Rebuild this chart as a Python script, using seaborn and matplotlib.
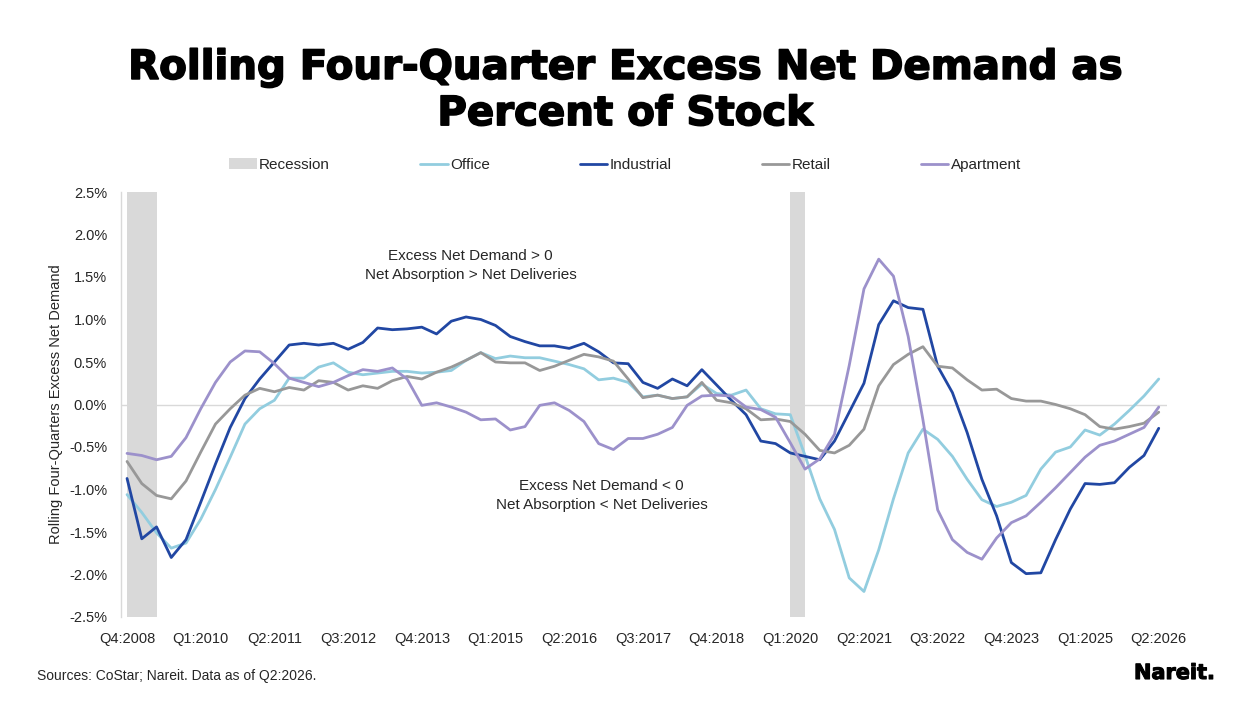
import numpy as np
import pandas as pd
import matplotlib
matplotlib.use("Agg")
import matplotlib.pyplot as plt
import matplotlib.patheffects as pe
import seaborn as sns
from matplotlib.lines import Line2D
from matplotlib.patches import Patch

# ---------------- data ----------------
quarter_labels = ["Q4:2008", "Q1:2010", "Q2:2011", "Q3:2012", "Q4:2013", "Q1:2015",
                  "Q2:2016", "Q3:2017", "Q4:2018", "Q1:2020", "Q2:2021", "Q3:2022",
                  "Q4:2023", "Q1:2025", "Q2:2026"]

office = [-1.06, -1.27, -1.51, -1.69, -1.63, -1.35, -1.00, -0.62, -0.23, -0.05,
          0.05, 0.31, 0.31, 0.44, 0.49, 0.38, 0.35, 0.37, 0.39, 0.39,
          0.37, 0.38, 0.40, 0.52, 0.61, 0.54, 0.57, 0.55, 0.55, 0.51,
          0.47, 0.42, 0.29, 0.31, 0.26, 0.09, 0.11, 0.07, 0.09, 0.24,
          0.13, 0.11, 0.17, -0.05, -0.11, -0.12, -0.60, -1.11, -1.47, -2.04,
          -2.20, -1.71, -1.11, -0.57, -0.29, -0.41, -0.61, -0.88, -1.12, -1.20,
          -1.15, -1.07, -0.76, -0.56, -0.50, -0.30, -0.36, -0.23, -0.07, 0.10,
          0.30]

industrial = [-0.87, -1.58, -1.44, -1.80, -1.59, -1.15, -0.70, -0.27, 0.07, 0.30,
              0.50, 0.70, 0.72, 0.70, 0.72, 0.65, 0.73, 0.90, 0.88, 0.89,
              0.91, 0.83, 0.98, 1.03, 1.00, 0.93, 0.80, 0.74, 0.69, 0.69,
              0.66, 0.72, 0.62, 0.49, 0.48, 0.26, 0.19, 0.30, 0.22, 0.41,
              0.23, 0.05, -0.12, -0.43, -0.46, -0.57, -0.61, -0.65, -0.43, -0.09,
              0.25, 0.94, 1.22, 1.14, 1.12, 0.45, 0.14, -0.33, -0.88, -1.31,
              -1.86, -1.99, -1.98, -1.59, -1.23, -0.93, -0.94, -0.92, -0.74, -0.60,
              -0.28]

retail = [-0.67, -0.93, -1.07, -1.11, -0.90, -0.56, -0.23, -0.05, 0.11, 0.19,
          0.15, 0.20, 0.17, 0.28, 0.26, 0.17, 0.22, 0.19, 0.28, 0.33,
          0.30, 0.38, 0.44, 0.52, 0.61, 0.50, 0.49, 0.49, 0.40, 0.45,
          0.52, 0.59, 0.56, 0.51, 0.30, 0.08, 0.11, 0.07, 0.09, 0.26,
          0.05, 0.02, -0.05, -0.18, -0.17, -0.20, -0.35, -0.54, -0.57, -0.48,
          -0.29, 0.22, 0.47, 0.59, 0.68, 0.45, 0.43, 0.29, 0.17, 0.18,
          0.07, 0.04, 0.04, 0.00, -0.05, -0.12, -0.26, -0.29, -0.26, -0.22,
          -0.09]

apartment = [-0.575, -0.60, -0.65, -0.61, -0.39, -0.05, 0.26, 0.50, 0.63, 0.62,
             0.48, 0.31, 0.26, 0.21, 0.26, 0.34, 0.41, 0.39, 0.43, 0.30,
             -0.01, 0.02, -0.03, -0.09, -0.18, -0.17, -0.30, -0.26, -0.01, 0.02,
             -0.07, -0.20, -0.46, -0.53, -0.40, -0.40, -0.35, -0.27, -0.01, 0.10,
             0.11, 0.10, -0.03, -0.06, -0.15, -0.45, -0.76, -0.64, -0.35, 0.46,
             1.36, 1.71, 1.51, 0.80, -0.18, -1.24, -1.59, -1.74, -1.82, -1.57,
             -1.39, -1.31, -1.15, -0.98, -0.80, -0.62, -0.48, -0.43, -0.35, -0.27,
             -0.03]

# recession periods (quarter index, start / end)
recession_start = [0, 45]
recession_end = [2, 46]

series_names = ["Office", "Industrial", "Retail", "Apartment"]
colors = {"Office": "#92CDDF", "Industrial": "#2147A3",
          "Retail": "#989898", "Apartment": "#9C91CB"}
rec_color = "#D9D9D9"

n = len(office)
idx = np.arange(n)
df = pd.DataFrame({
    "idx": np.tile(idx, 4),
    "value": np.concatenate([office, industrial, retail, apartment]),
    "Sector": np.repeat(series_names, n),
})

# ---------------- figure ----------------
sns.set_theme(style="white")
plt.rcParams["font.family"] = ["Liberation Sans", "DejaVu Sans"]

fig = plt.figure(figsize=(12.5, 7.03), dpi=100)
ax = fig.add_axes([121 / 1250, 1 - 617 / 703, (1167 - 121) / 1250, (617 - 192) / 703])

for s, e in zip(recession_start, recession_end):
    ax.axvspan(s, e, color=rec_color, lw=0, zorder=0)

ax.axhline(0, color="#D9D9D9", lw=1, zorder=1)

sns.lineplot(data=df, x="idx", y="value", hue="Sector", palette=colors,
             hue_order=series_names, ax=ax, legend=False, linewidth=2.0, zorder=3)

ax.set_xlim(-0.41, 70.56)
ax.set_ylim(-2.5, 2.5)
yt = np.arange(-2.5, 2.51, 0.5)
ax.set_yticks(yt)
ax.set_yticklabels([f"{v:.1f}%" for v in yt], fontsize=10.5, color="#262626")
ax.set_xticks(np.arange(0, n, 5))
ax.set_xticklabels(quarter_labels, fontsize=10.5, color="#262626")
ax.tick_params(axis="both", length=0)
ax.tick_params(axis="y", pad=10)
ax.tick_params(axis="x", pad=11)
ax.set_xlabel("")
ax.set_ylabel("Rolling Four-Quarters Excess Net Demand", fontsize=10.5, color="#262626", labelpad=4)
for side in ["top", "right", "bottom"]:
    ax.spines[side].set_visible(False)
ax.spines["left"].set_color("#D9D9D9")
ax.spines["left"].set_linewidth(1)
ax.grid(False)

# annotations
ax.text(23.3, 1.63, "Excess Net Demand > 0\nNet Absorption > Net Deliveries",
        ha="center", va="center", fontsize=11, color="#262626", linespacing=1.45)
ax.text(32.2, -1.07, "Excess Net Demand < 0\nNet Absorption < Net Deliveries",
        ha="center", va="center", fontsize=11, color="#262626", linespacing=1.45)

# legend
handles = [Patch(facecolor=rec_color, edgecolor="none")]
labels = ["Recession"]
for s in series_names:
    handles.append(Line2D([0], [0], color=colors[s], lw=2.0))
    labels.append(s)
fig.legend(handles, labels, loc="center", bbox_to_anchor=(0.5, 1 - 165 / 703), ncol=5,
           frameon=False, fontsize=11, handlelength=1.8, handletextpad=0.15,
           columnspacing=5.9, labelcolor="#262626")

# title
fig.text(0.5, 1 - 91 / 703, "Rolling Four-Quarter Excess Net Demand as\nPercent of Stock",
         ha="center", va="center", fontsize=29, fontweight="bold",
         family=["DejaVu Sans"], color="black", linespacing=1.2,
         path_effects=[pe.withStroke(linewidth=1.2, foreground="black")])

fig.text(37 / 1250, 1 - 676 / 703, "Sources: CoStar; Nareit. Data as of Q2:2026.",
         ha="left", va="center", fontsize=10, color="#262626")
fig.text(1215 / 1250, 1 - 673 / 703, "Nareit.", ha="right", va="center",
         fontsize=15, fontweight="heavy", family=["DejaVu Sans"], color="black",
         path_effects=[pe.withStroke(linewidth=0.8, foreground="black")])

fig.savefig("out.png", dpi=100, facecolor="white")
